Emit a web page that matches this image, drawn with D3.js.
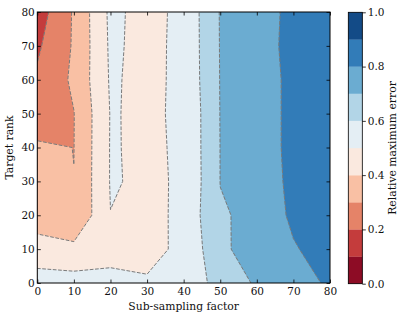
<!DOCTYPE html>
<html><head><meta charset="utf-8">
<script src="https://cdn.jsdelivr.net/npm/d3@7/dist/d3.min.js"></script>
<style>
body{margin:0;background:#fff}
svg text{font-family:"DejaVu Serif",serif !important}
</style>
</head><body><svg id="c" width="407" height="321"></svg>
<script>
// ---- data ----
const xValues = [0, 10, 20, 30, 40, 50, 60, 70, 80];           // sub-sampling factor
const yValues = [0, 10, 20, 30, 40, 50, 60, 70, 80];           // target rank
// relative maximum error, rows follow yValues (bottom to top), columns follow xValues
const errorRow00 = [0.55, 0.539, 0.533, 0.507, 0.56, 0.6215, 0.715, 0.77, 0.81];
const errorRow10 = [0.434, 0.427, 0.46, 0.48, 0.5145, 0.679, 0.749, 0.79, 0.85];
const errorRow20 = [0.358, 0.305, 0.499, 0.47, 0.522, 0.695, 0.712, 0.822, 0.85];
const errorRow30 = [0.34, 0.301, 0.505, 0.49, 0.507, 0.701, 0.77, 0.812, 0.85];
const errorRow40 = [0.32, 0.299, 0.505, 0.488, 0.51, 0.701, 0.77, 0.815, 0.85];
const errorRow50 = [0.22, 0.298, 0.504, 0.49, 0.51, 0.702, 0.77, 0.815, 0.85];
const errorRow60 = [0.215, 0.317, 0.51, 0.478, 0.52, 0.703, 0.77, 0.815, 0.85];
const errorRow70 = [0.185, 0.31, 0.515, 0.475, 0.522, 0.704, 0.77, 0.82, 0.845];
const errorRow80 = [0.15, 0.31, 0.52, 0.471, 0.523, 0.705, 0.765, 0.82, 0.84];
const errorGrid = [errorRow00, errorRow10, errorRow20, errorRow30, errorRow40,
                   errorRow50, errorRow60, errorRow70, errorRow80];
const levels = [0, 0.1, 0.2, 0.3, 0.4, 0.5, 0.6, 0.7, 0.8, 0.9, 1.0];
const xTicks = [0, 10, 20, 30, 40, 50, 60, 70, 80];
const yTicks = [0, 10, 20, 30, 40, 50, 60, 70, 80];
const cbarTicks = [0, 0.2, 0.4, 0.6, 0.8, 1.0];
const rdbuAnchors = ["#67001f","#b2182b","#d6604d","#f4a582","#fddbc7","#f7f7f7",
                     "#d1e5f0","#92c5de","#4393c3","#2166ac","#053061"];
const xLabel = "Sub-sampling factor";
const yLabel = "Target rank";
const cbarLabel = "Relative maximum error";

// ---- layout ----
const m = {left: 37.3, right: 330, top: 12, bottom: 283};
const cb = {left: 348.3, right: 362.3, top: 12.3, bottom: 283.7};
const svg = d3.select("#c");
const x = d3.scaleLinear().domain([0, 80]).range([m.left, m.right]);
const y = d3.scaleLinear().domain([0, 80]).range([m.bottom, m.top]);
const cmap = d3.scaleLinear().domain(d3.range(11).map(i => i / 10)).range(rdbuAnchors)
  .interpolate(d3.interpolateRgb);
const bandColor = i => cmap((levels[i] + levels[i + 1]) / 2);

// padded grid (edge replicated) so the domain edges behave like matplotlib's contourf
const nx = xValues.length, ny = yValues.length;
const pw = nx + 2, ph = ny + 2;
const vals = new Array(pw * ph);
for (let j = 0; j < ph; j++) for (let i = 0; i < pw; i++) {
  const jj = Math.min(ny - 1, Math.max(0, j - 1));
  const ii = Math.min(nx - 1, Math.max(0, i - 1));
  vals[j * pw + i] = errorGrid[jj][ii];
}
const gx = d3.scaleLinear().domain([1.5, nx + 0.5]).range([xValues[0], xValues[nx - 1]]);
const gy = d3.scaleLinear().domain([1.5, ny + 0.5]).range([yValues[0], yValues[ny - 1]]);
const proj = d3.geoTransform({point(a, b) { this.stream.point(x(gx(a)), y(gy(b))); }});
const path = d3.geoPath(proj);
const bands = d3.contours().size([pw, ph]).thresholds(levels.slice(0, -1))(vals);

svg.append("clipPath").attr("id", "clip").append("rect")
  .attr("x", m.left).attr("y", m.top)
  .attr("width", m.right - m.left).attr("height", m.bottom - m.top);

const plot = svg.append("g").attr("clip-path", "url(#clip)");
plot.selectAll("path.band").data(bands).join("path")
  .attr("class", "band")
  .attr("d", path)
  .attr("fill", (d, i) => bandColor(i))
  .attr("stroke", (d, i) => bandColor(i))
  .attr("stroke-width", 0.3);
plot.selectAll("path.line").data(bands.slice(1)).join("path")
  .attr("class", "line")
  .attr("d", path)
  .attr("fill", "none")
  .attr("stroke", "#7a7a7a")
  .attr("stroke-width", 1)
  .attr("stroke-dasharray", "3.7,1.6");

// axes
function styleAxis(g) {
  g.attr("font-family", null).attr("font-size", null);
  g.select(".domain").remove();
  g.selectAll(".tick line").attr("stroke", "#000").attr("stroke-width", 0.8);
  g.selectAll(".tick text").style("font-size", "10.5px").attr("fill", "#111");
}
svg.append("g").attr("transform", `translate(0,${m.bottom})`)
  .call(d3.axisBottom(x).tickValues(xTicks).tickSize(-3.5).tickPadding(5)).call(styleAxis);
svg.append("g").attr("transform", `translate(${m.left},0)`)
  .call(d3.axisLeft(y).tickValues(yTicks).tickSize(-3.5).tickPadding(2.5)).call(styleAxis);
svg.append("g").attr("transform", `translate(0,${m.top})`)
  .call(d3.axisTop(x).tickValues(xTicks).tickSize(-3.5).tickFormat("")).call(styleAxis);
svg.append("g").attr("transform", `translate(${m.right},0)`)
  .call(d3.axisRight(y).tickValues(yTicks).tickSize(-3.5).tickFormat("")).call(styleAxis);
svg.append("rect").attr("x", m.left).attr("y", m.top)
  .attr("width", m.right - m.left).attr("height", m.bottom - m.top)
  .attr("fill", "none").attr("stroke", "#000").attr("stroke-width", 1);

svg.append("text").attr("x", (m.left + m.right) / 2).attr("y", 310)
  .attr("text-anchor", "middle").style("font-size", "10.8px")
  .attr("fill", "#111").text(xLabel);
svg.append("text").attr("transform", `translate(13,${(m.top + m.bottom) / 2}) rotate(-90)`)
  .attr("text-anchor", "middle").style("font-size", "10.8px")
  .attr("fill", "#111").text(yLabel);

// colorbar
const c = d3.scaleLinear().domain([0, 1]).range([cb.bottom, cb.top]);
svg.selectAll("rect.cb").data(d3.range(levels.length - 1)).join("rect")
  .attr("class", "cb")
  .attr("x", cb.left).attr("width", cb.right - cb.left)
  .attr("y", i => c(levels[i + 1])).attr("height", i => c(levels[i]) - c(levels[i + 1]))
  .attr("fill", i => bandColor(i)).attr("stroke", i => bandColor(i)).attr("stroke-width", 0.3);
svg.append("rect").attr("x", cb.left).attr("y", cb.top)
  .attr("width", cb.right - cb.left).attr("height", cb.bottom - cb.top)
  .attr("fill", "none").attr("stroke", "#000").attr("stroke-width", 0.8);
svg.append("g").attr("transform", `translate(${cb.right},0)`)
  .call(d3.axisRight(c).tickValues(cbarTicks).tickFormat(d3.format(".1f")).tickSize(3.5).tickPadding(2))
  .call(styleAxis);
svg.append("text").attr("transform", `translate(396,${(cb.top + cb.bottom) / 2}) rotate(-90)`)
  .attr("text-anchor", "middle").style("font-size", "10.8px")
  .attr("fill", "#111").text(cbarLabel);
</script>
</body></html>
